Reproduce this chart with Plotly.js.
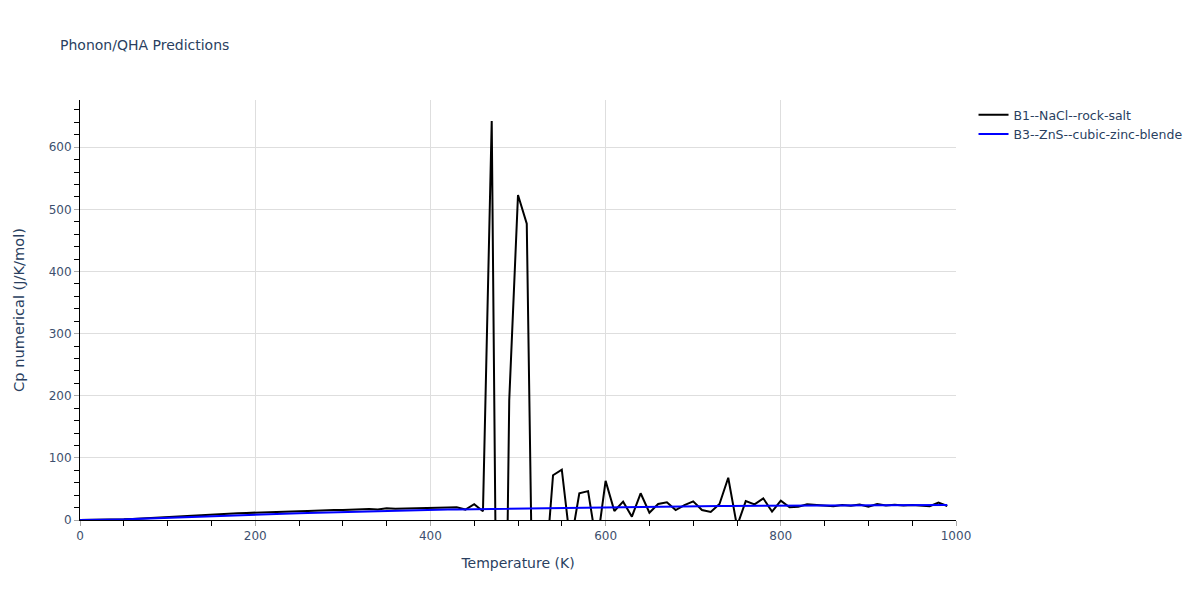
<!DOCTYPE html>
<html>
<head>
<meta charset="utf-8">
<script src="https://cdn.plot.ly/plotly-3.0.1.min.js"></script>
<style>html,body{margin:0;padding:0;background:#fff;}#chart{width:1200px;height:600px;}</style>
</head>
<body>
<div id="chart"></div>
<script>
// Temperatures (K)
const temperatures = [0,10,20,30,40,50,60,70,80,90,100,110,120,130,140,150,160,170,180,190,200,210,220,230,240,250,260,270,280,290,300,310,320,330,340,350,360,370,380,390,400,410,420,430,440,450,460,470,480,490,500,510,520,530,540,550,560,570,580,590,600,610,620,630,640,650,660,670,680,690,700,710,720,730,740,750,760,770,780,790,800,810,820,830,840,850,860,870,880,890,900,910,920,930,940,950,960,970,980,990];

// B1--NaCl--rock-salt Cp (J/K/mol)
const cpRockSalt = [0,0,0.1,0.3,0.6,1.1,1.8,2.6,3.5,4.4,5.3,6.1,6.9,7.6,8.3,9.4,9.9,10.4,10.9,11.4,12.0,12.4,12.8,13.2,13.6,14.0,14.4,15.3,15.8,15.9,16.1,16.6,17.2,17.8,17.0,18.8,18.2,18.7,19.3,18.6,19.8,20.0,20.2,20.5,16.8,25.5,14.0,642,-900,193,523,477,-477,-108,72,81,-40,43,46.5,-42,63,14.5,29.5,5.4,43,11.8,25.7,28.4,16,24,30,16,12.9,25.7,68,-10,30.5,25.2,34.9,13.4,31,20.4,21.4,25.2,24,23,22.2,24,23,25,21.4,25.7,23.2,24.4,23.2,24.2,23.6,22.2,27.9,22.5,24.2];

// B3--ZnS--cubic-zinc-blende Cp (J/K/mol)
const cpZincBlende = [0,0.01,0.08,0.25,0.55,0.95,1.45,2.0,2.6,3.2,3.8,4.4,5.0,5.5,6.0,6.5,7.0,7.5,8.0,8.5,9.0,9.4,9.8,10.2,10.6,11.0,11.4,11.8,12.2,12.6,13.0,13.3,13.6,13.9,14.2,14.6,14.9,15.2,15.5,15.8,16.1,16.4,16.7,17.0,17.2,17.5,17.8,18.0,18.3,18.5,18.8,19.0,19.2,19.4,19.6,19.8,20.0,20.2,20.4,20.6,20.8,20.95,21.1,21.25,21.4,21.55,21.7,21.85,22.0,22.1,22.2,22.3,22.4,22.5,22.6,22.7,22.8,22.9,23.0,23.1,23.2,23.25,23.3,23.4,23.45,23.5,23.55,23.6,23.65,23.7,23.75,23.8,23.85,23.9,23.95,24.0,24.05,24.1,24.15,24.2];

const seriesNames = ["B1--NaCl--rock-salt", "B3--ZnS--cubic-zinc-blende"];

const traces = [
  {x: temperatures, y: cpRockSalt, type: 'scatter', mode: 'lines', name: seriesNames[0], line: {color: 'black', width: 2}},
  {x: temperatures, y: cpZincBlende, type: 'scatter', mode: 'lines', name: seriesNames[1], line: {color: 'blue', width: 2}}
];

const axisCommon = {
  showline: true, linecolor: 'black', linewidth: 1,
  showgrid: true, gridcolor: '#dedede', gridwidth: 1,
  ticks: 'outside', ticklen: 5, tickcolor: '#aaa',
  zeroline: false,
  tickfont: {size: 12, color: '#3d4f6e'}
};

const layout = {
  width: 1200, height: 600,
  paper_bgcolor: 'white', plot_bgcolor: 'white',
  font: {family: '"DejaVu Sans", verdana, sans-serif', color: '#2a3f5f', size: 12},
  title: {text: 'Phonon/QHA Predictions', x: 0.05, xanchor: 'left', font: {size: 14}},
  margin: {l: 80, r: 80, t: 100, b: 80},
  xaxis: Object.assign({}, axisCommon, {
    title: {text: 'Temperature (K)', font: {size: 14}, standoff: 15},
    range: [0, 1000], dtick: 200,
    minor: {ticks: 'outside', ticklen: 5, tickcolor: 'black', dtick: 50, showgrid: false}
  }),
  yaxis: Object.assign({}, axisCommon, {
    title: {text: 'Cp numerical (J/K/mol)', font: {size: 14.6}, standoff: 20},
    range: [0, 676], dtick: 100,
    minor: {ticks: 'outside', ticklen: 5, tickcolor: 'black', dtick: 20, showgrid: false}
  }),
  legend: {font: {size: 12.5}},
  showlegend: true
};

Plotly.newPlot('chart', traces, layout, {displayModeBar: false});
</script>
</body>
</html>
